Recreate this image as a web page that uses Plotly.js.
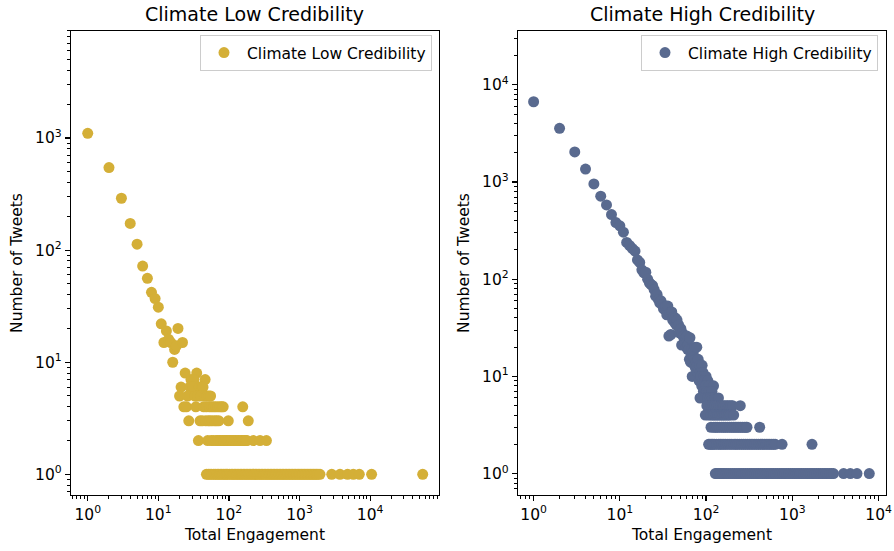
<!DOCTYPE html>
<html><head><meta charset="utf-8">
<script src="https://cdn.plot.ly/plotly-3.0.1.min.js"></script>
<style>html,body{margin:0;padding:0;background:#fff}#chart{width:894px;height:551px}</style>
</head><body><div id="chart"></div>
<script>
// ---------- Data ----------
const panelTitles = ['Climate Low Credibility', 'Climate High Credibility'];
const decadeValues = [1, 10, 100, 1000, 10000];
const decadeLabels = ['10<sup>0</sup>', '10<sup>1</sup>', '10<sup>2</sup>', '10<sup>3</sup>', '10<sup>4</sup>'];

// Low credibility: head (engagement -> number of tweets)
const lowHeadEngagement = [1,2,3,4,5,6,7,8,9,10,11,12,13,14,15,16,17,18,19,22];
const lowHeadTweets = [1100,545,290,173,113,72,56,42,37,31,22,15,19,16,15,10,13,14,20,15];
// Low credibility: tail, engagement values grouped by tweet count
const lowTailCounts = [8,7,6,5,4,3,2,1];
const lowTailEngagement = [
  [24,35],
  [29,32,46],
  [21,28,31,38,41,43],
  [20,26,33,36,40,45,49,52,55],
  [23,25,34,44,48,53,57,61,65,70,75,79,83,157],
  [27,39,42,47,51,54,58,63,67,72,98,188],
  [37,50,56,60,66,69,73,76,81,85,89,93,97,101,106,111,117,123,129,136,143,150,158,166,174,180,222,276,340],
  [48,51,54,57,61,64,68,71,75,79,83,88,92,96,102,108,113,119,125,131,138,145,152,160,168,176,185,194,204,214,225,236,248,260,273,287,301,316,332,349,366,384,403,423,444,466,489,514,540,567,595,625,656,689,723,759,797,837,879,923,969,1017,1068,1121,1177,1236,1298,1363,1431,1503,1578,1657,1740,1827,1950,2860,3750,4800,5780,7030,10500,55600]
];

// High credibility: head (engagement 1..84 -> number of tweets)
const highHeadTweets = [6700,3570,2040,1360,955,715,582,463,383,354,
  305,239,222,207,195,158,149,125,116,118,
  100,92,88,86,78,67,70,62,57,60,
  55,50,49,53,43,53,26,45,27,46,
  38,41,36,40,34,38,33,34,28,30,
  31,21,28,26,26,24,22,25,20,26,
  19,21,19,15,25,14,17,19,10,16,
  18,16,13,20,15,12,14,20,13,11,
  15,12,9,13];
const highHeadEngagement = highHeadTweets.map((_, i) => i + 1);
// High credibility: tail, engagement values grouped by tweet count
const highTailCounts = [13,11,10,9,8,7,6,5,4,3,2,1];
const highTailEngagement = [
  [90],
  [86,92],
  [87,94,100],
  [91,96,105],
  [89,95,99,108,122],
  [93,101,109,117],
  [85,97,104,112,118,126,139],
  [102,110,115,121,127,134,141,148,155,162,170,178,186,195,203,249],
  [98,106,113,119,124,131,137,144,151,158,165,174,182,191,209],
  [114,123,129,135,143,152,160,168,177,187,197,207,217,228,240,252,264,277,290,298,418],
  [107,111,116,120,125,132,140,146,153,161,169,179,189,199,211,221,232,245,258,271,285,300,316,332,349,367,386,406,427,449,472,497,522,549,577,606,633,760,1690],
  [128,133,138,145,150,157,163,171,180,190,201,212,223,235,247,260,273,287,302,318,334,351,369,388,408,429,451,474,498,524,551,579,609,640,673,707,743,781,821,863,907,953,1002,1053,1107,1163,1223,1285,1351,1420,1492,1568,1648,1732,1821,1914,2011,2114,2222,2335,2454,2580,2711,2850,3000,3930,4700,5620,7800]
];

function build(headX, headY, tailCounts, tailX) {
  const x = headX.slice(), y = headY.slice();
  tailCounts.forEach((c, k) => tailX[k].forEach(v => { x.push(v); y.push(c); }));
  return {x, y};
}
const low = build(lowHeadEngagement, lowHeadTweets, lowTailCounts, lowTailEngagement);
const high = build(highHeadEngagement, highHeadTweets, highTailCounts, highTailEngagement);

// ---------- Styling ----------
const W = 894, H = 551;
const FONT = 'DejaVu Sans, Liberation Sans, sans-serif';
const GOLD = '#D4AF37', SLATE = '#596A8F';

function axis(extra) {
  return Object.assign({
    type: 'log', showline: true, linecolor: '#000', linewidth: 1.2, mirror: true,
    ticks: 'outside', ticklen: 5, tickwidth: 1.2, tickcolor: '#000',
    showgrid: false, zeroline: false, automargin: false,
    tickmode: 'array', tickvals: decadeValues, ticktext: decadeLabels,
    tickfont: {family: FONT, size: 15.5, color: '#000'},
    minor: {ticks: 'outside', ticklen: 3, tickwidth: 1, tickcolor: '#000', dtick: 'D1', showgrid: false}
  }, extra);
}

const traces = [
  {type: 'scatter', mode: 'markers', x: low.x, y: low.y, name: panelTitles[0],
   marker: {color: GOLD, size: 11}, xaxis: 'x', yaxis: 'y', legend: 'legend'},
  {type: 'scatter', mode: 'markers', x: high.x, y: high.y, name: panelTitles[1],
   marker: {color: SLATE, size: 11}, xaxis: 'x2', yaxis: 'y2', legend: 'legend2'}
];

const xTitle = {text: 'Total Engagement', font: {family: FONT, size: 15.5, color: '#000'}, standoff: 6};
const yTitle = {text: 'Number of Tweets', font: {family: FONT, size: 15.5, color: '#000'}, standoff: 8};
const legendBase = {yanchor: 'top', y: (H - 35) / H, xanchor: 'right', bordercolor: '#cccccc', borderwidth: 1,
  bgcolor: 'rgba(255,255,255,0.8)', font: {family: FONT, size: 15.5, color: '#000'}, itemwidth: 36};

const layout = {
  width: W, height: H, autosize: false, showlegend: true,
  margin: {l: 0, r: 0, t: 0, b: 0},
  paper_bgcolor: '#fff', plot_bgcolor: '#fff',
  font: {family: FONT, color: '#000'},
  xaxis: axis({domain: [71 / W, 439 / W], range: [-0.237, 4.976], anchor: 'y', title: xTitle}),
  yaxis: axis({domain: [56 / H, 520 / H], range: [-0.184, 3.954], anchor: 'x', title: yTitle}),
  xaxis2: axis({domain: [518 / W, 886 / W], range: [-0.181, 4.086], anchor: 'y2', title: xTitle}),
  yaxis2: axis({domain: [56 / H, 520 / H], range: [-0.22, 4.554], anchor: 'x2', title: yTitle}),
  legend: Object.assign({x: 432 / W}, legendBase),
  legend2: Object.assign({x: 878 / W}, legendBase),
  annotations: [
    {text: panelTitles[0], xref: 'paper', yref: 'paper', x: 255 / W, y: (H - 14) / H, xanchor: 'center', yanchor: 'middle',
     showarrow: false, font: {family: FONT, size: 19, color: '#000'}},
    {text: panelTitles[1], xref: 'paper', yref: 'paper', x: 702 / W, y: (H - 14) / H, xanchor: 'center', yanchor: 'middle',
     showarrow: false, font: {family: FONT, size: 19, color: '#000'}}
  ]
};

Plotly.newPlot('chart', traces, layout, {staticPlot: true, displayModeBar: false});
</script>
</body></html>
